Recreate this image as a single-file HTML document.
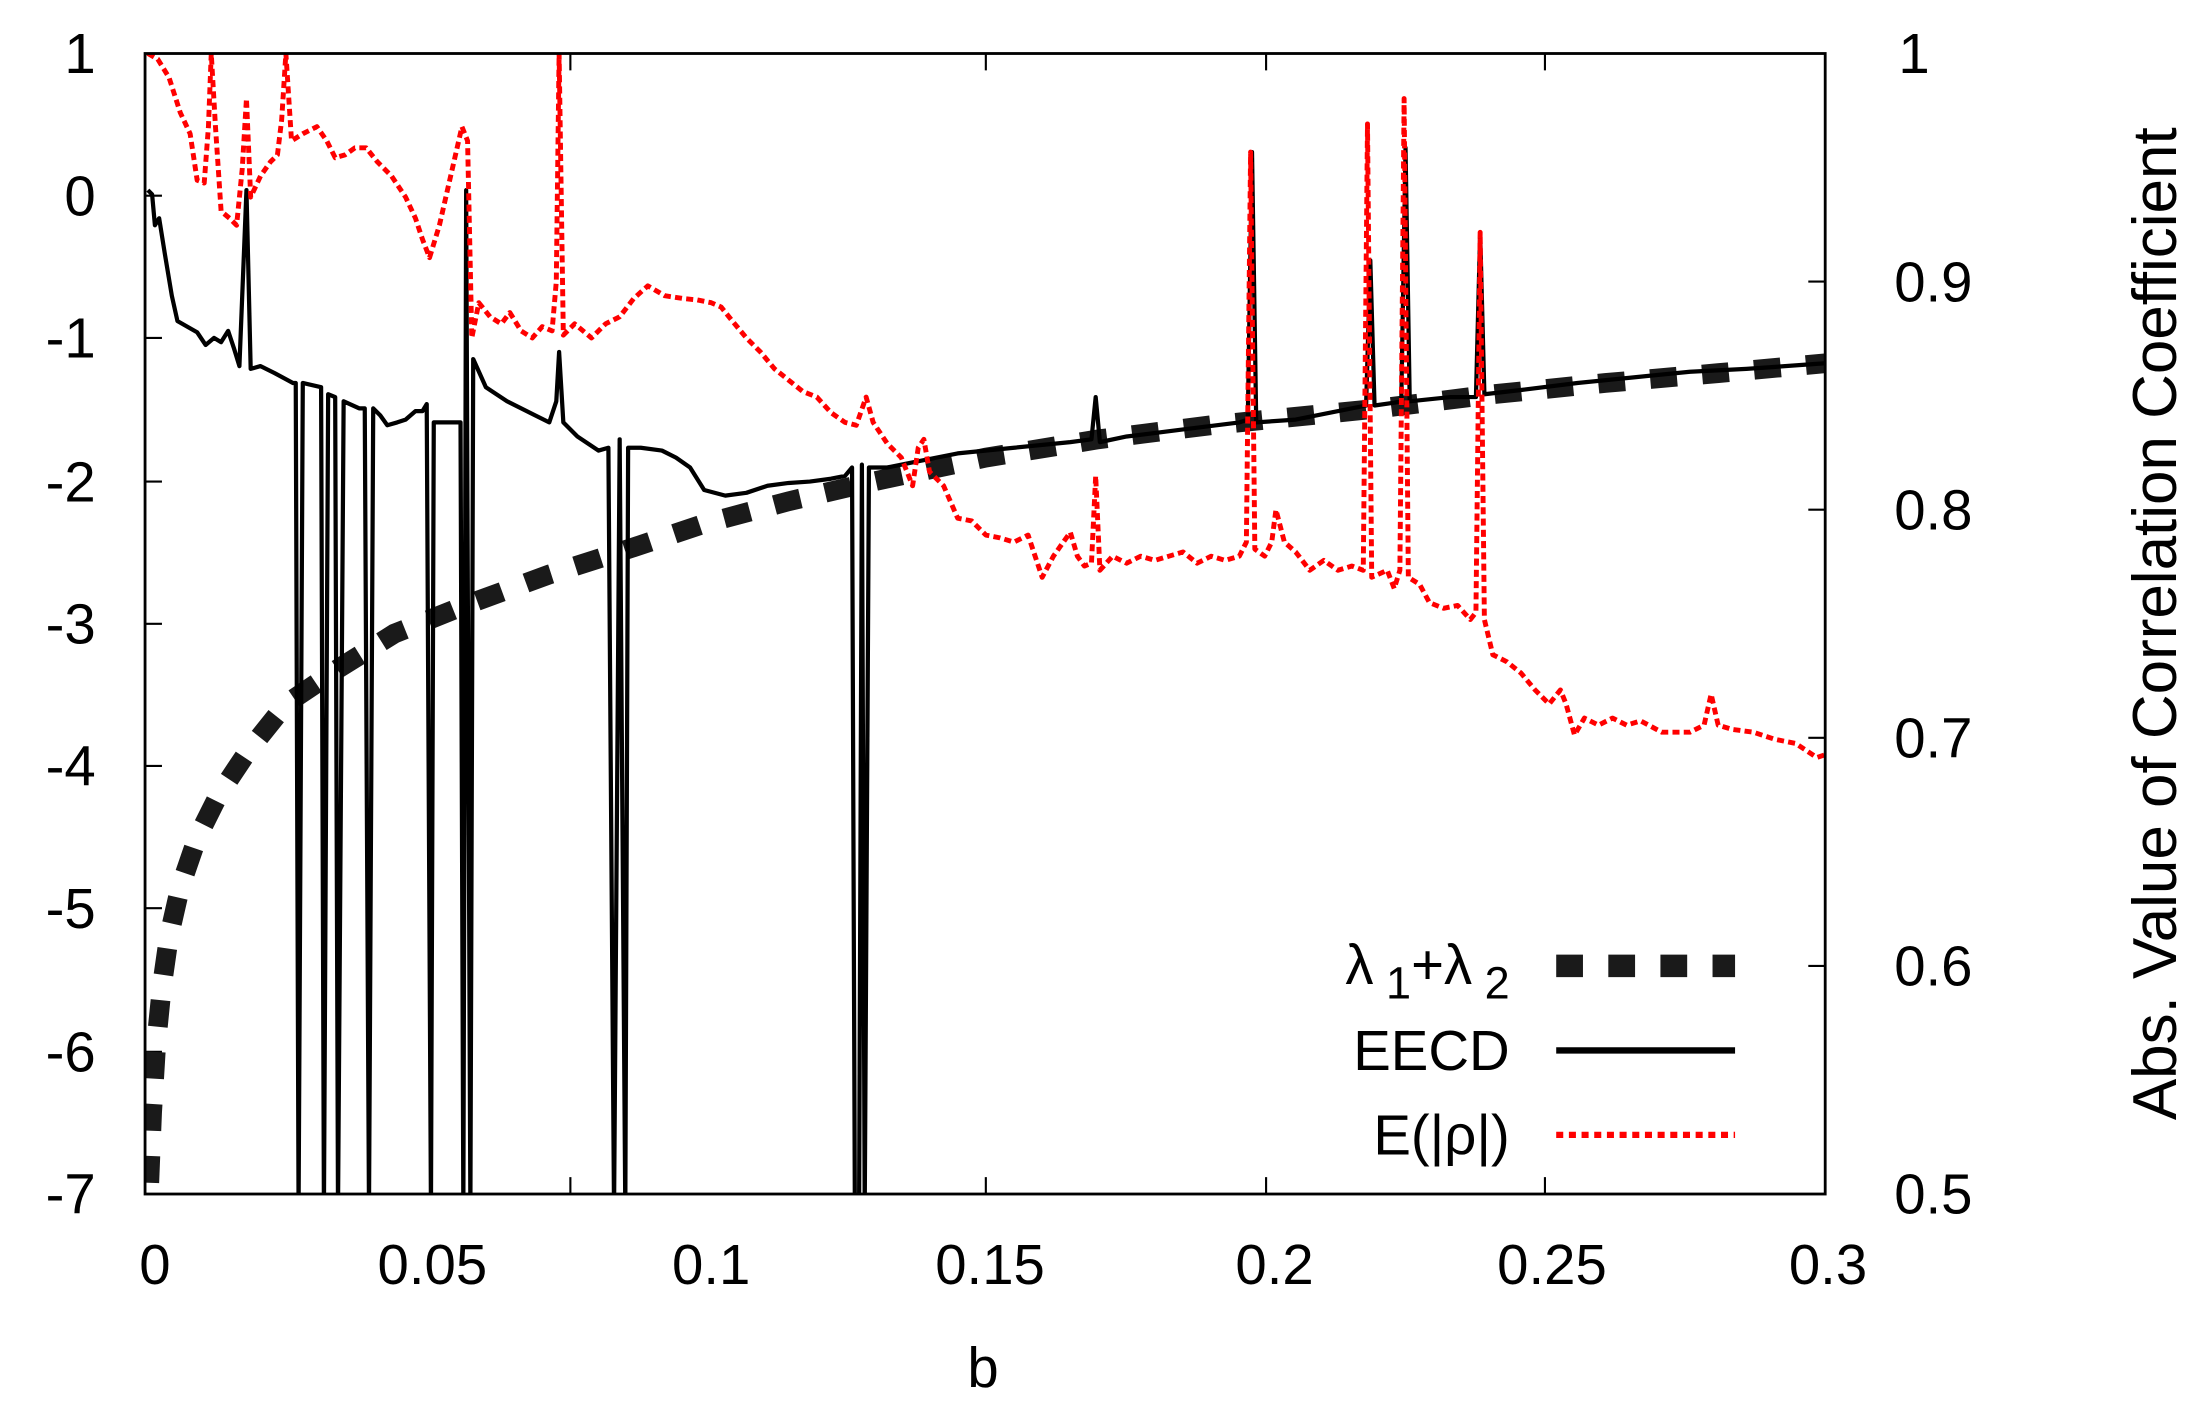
<!DOCTYPE html>
<html><head><meta charset="utf-8"><style>
html,body{margin:0;padding:0;background:#fff;}
svg{display:block;}
text{font-family:"Liberation Sans",sans-serif;fill:#000;}
</style></head><body>
<svg width="2197" height="1401" viewBox="0 0 1560 995" preserveAspectRatio="none" xmlns="http://www.w3.org/2000/svg">
<rect x="0" y="0" width="1560" height="995" fill="#fff"/>
<!-- ticks -->
<g stroke="#000" stroke-width="1.5">
<path d="M103 38h12M103 139h12M103 240h12M103 342h12M103 443h12M103 544h12M103 645h12M103 747h12"/>
<path d="M1296 200h-12M1296 362h-12M1296 524h-12M1296 686h-12"/>
<path d="M405 848v-12M700 848v-12M899 848v-12M1097 848v-12M405 38v12M700 38v12M899 38v12M1097 38v12"/>
</g>
<g font-size="40" text-anchor="end">
<text x="68" y="52">1</text><text x="68" y="153">0</text><text x="68" y="254">-1</text><text x="68" y="356">-2</text>
<text x="68" y="457">-3</text><text x="68" y="558">-4</text><text x="68" y="659">-5</text><text x="68" y="761">-6</text><text x="68" y="862">-7</text>
</g>
<g font-size="40" text-anchor="start">
<text x="1348" y="52">1</text><text x="1345" y="214">0.9</text><text x="1345" y="376">0.8</text><text x="1345" y="538">0.7</text><text x="1345" y="700">0.6</text><text x="1345" y="862">0.5</text>
</g>
<g font-size="40" text-anchor="middle">
<text x="110" y="912">0</text><text x="307" y="912">0.05</text><text x="505" y="912">0.1</text><text x="703" y="912">0.15</text>
<text x="905" y="912">0.2</text><text x="1102" y="912">0.25</text><text x="1298" y="912">0.3</text>
<text x="698" y="985">b</text>
</g>
<text font-size="44" text-anchor="middle" transform="translate(1545 443) rotate(-90)">Abs. Value of Correlation Coefficient</text>
<clipPath id="c"><rect x="103" y="38" width="1193" height="810"/></clipPath>
<g clip-path="url(#c)" fill="none">
<!-- lambda -->
<path stroke="#1a1a1a" stroke-width="14" stroke-dasharray="19 18" d="M106 840 L108 790 L111 740 L115 700 L120 665 L128 630 L140 595 L155 565 L175 535 L203 500 L240 475 L280 450 L330 430 L390 408 L440 392 L500 372 L560 356 L620 342 L700 325 L780 312 L860 302 L900 298 L980 290 L1060 280 L1140 272 L1220 265 L1296 258"/>
<!-- EECD -->
<path stroke="#000" stroke-width="3" stroke-linejoin="round" d="M105 135 L108 138 L110 160 L113 155 L117 180 L122 210 L126 228 L140 236 L146 245 L152 240 L157 243 L162 235 L166 247 L170 260 L175 135 L178 262 L185 260 L195 265 L208 272 L210 272 L212 860 L215 272 L228 275 L230 860 L233 280 L238 282 L240 860 L244 285 L255 290 L259 290 L262 860 L265 290 L270 295 L275 302 L282 300 L288 298 L295 292 L300 292 L303 287 L306 860 L308 300 L320 300 L327 300 L329 860 L331 135 L334 860 L336 255 L345 275 L360 285 L380 295 L390 300 L395 285 L397 250 L400 300 L410 310 L425 320 L432 318 L436 860 L440 312 L444 860 L446 318 L455 318 L470 320 L480 325 L490 332 L500 348 L515 352 L530 350 L545 345 L560 343 L575 342 L590 340 L600 338 L605 332 L607 860 L610 860 L612 330 L614 860 L617 332 L630 332 L650 328 L680 322 L720 318 L760 314 L775 312 L778 282 L781 314 L800 310 L840 305 L880 300 L886 298 L889 108 L892 300 L920 298 L960 290 L970 288 L973 185 L976 288 L990 286 L995 285 L998 105 L1001 285 L1030 282 L1048 282 L1051 165 L1054 280 L1080 277 L1120 272 L1160 268 L1200 264 L1240 262 L1296 258"/>
<!-- red -->
<path stroke="#f00" stroke-width="3.5" stroke-dasharray="5 3" stroke-linejoin="round" d="M105 38 L112 42 L120 55 L128 80 L135 95 L140 128 L145 130 L148 90 L150 38 L153 90 L157 150 L163 155 L168 160 L172 120 L175 70 L178 140 L185 125 L192 115 L197 110 L200 85 L203 38 L207 100 L215 95 L225 90 L232 100 L238 112 L245 110 L252 105 L260 105 L268 115 L278 125 L288 140 L295 155 L300 170 L305 183 L312 160 L320 125 L328 90 L332 100 L335 240 L340 215 L348 225 L356 230 L362 222 L370 235 L378 240 L385 232 L392 235 L395 200 L397 38 L400 238 L408 230 L420 240 L430 230 L440 225 L450 212 L460 203 L472 210 L485 212 L495 213 L505 215 L512 218 L520 228 L530 240 L540 250 L550 262 L560 270 L570 278 L580 282 L590 293 L600 300 L608 302 L615 282 L620 300 L630 315 L640 325 L648 345 L652 318 L656 312 L660 335 L670 345 L680 368 L690 370 L700 380 L710 382 L720 385 L730 380 L735 395 L740 410 L748 395 L755 385 L760 378 L765 395 L770 402 L775 400 L778 338 L781 405 L790 395 L800 400 L810 395 L820 398 L830 395 L840 392 L850 400 L860 395 L870 398 L880 395 L885 385 L888 108 L891 390 L898 395 L903 385 L906 362 L912 385 L920 392 L930 405 L940 398 L950 405 L960 402 L968 405 L971 88 L974 410 L985 405 L990 418 L994 405 L997 70 L1000 410 L1008 415 L1015 428 L1025 432 L1035 430 L1044 440 L1048 435 L1051 165 L1054 440 L1060 465 L1070 470 L1080 478 L1090 490 L1100 500 L1108 490 L1112 500 L1118 522 L1125 510 L1135 515 L1145 510 L1155 515 L1165 512 L1180 520 L1200 520 L1210 515 L1215 493 L1220 515 L1230 518 L1245 520 L1260 525 L1275 528 L1290 538 L1296 536"/>
</g>
<!-- legend -->
<g font-size="40" text-anchor="end">
<text x="1072" y="699"><tspan>λ</tspan><tspan font-size="32" dy="10"> 1</tspan><tspan dy="-10">+λ</tspan><tspan font-size="32" dy="10"> 2</tspan></text>
<text x="1072" y="760">EECD</text>
<text x="1072" y="820">E(|ρ|)</text>
</g>
<path d="M1105 686 H1232" stroke="#1a1a1a" stroke-width="16" stroke-dasharray="19 18"/>
<path d="M1105 746 H1232" stroke="#000" stroke-width="4.5"/>
<path d="M1105 806 H1232" stroke="#f00" stroke-width="4.5" stroke-dasharray="5 4"/>
<rect x="103" y="38" width="1193" height="810" fill="none" stroke="#000" stroke-width="2"/>
</svg>
</body></html>
